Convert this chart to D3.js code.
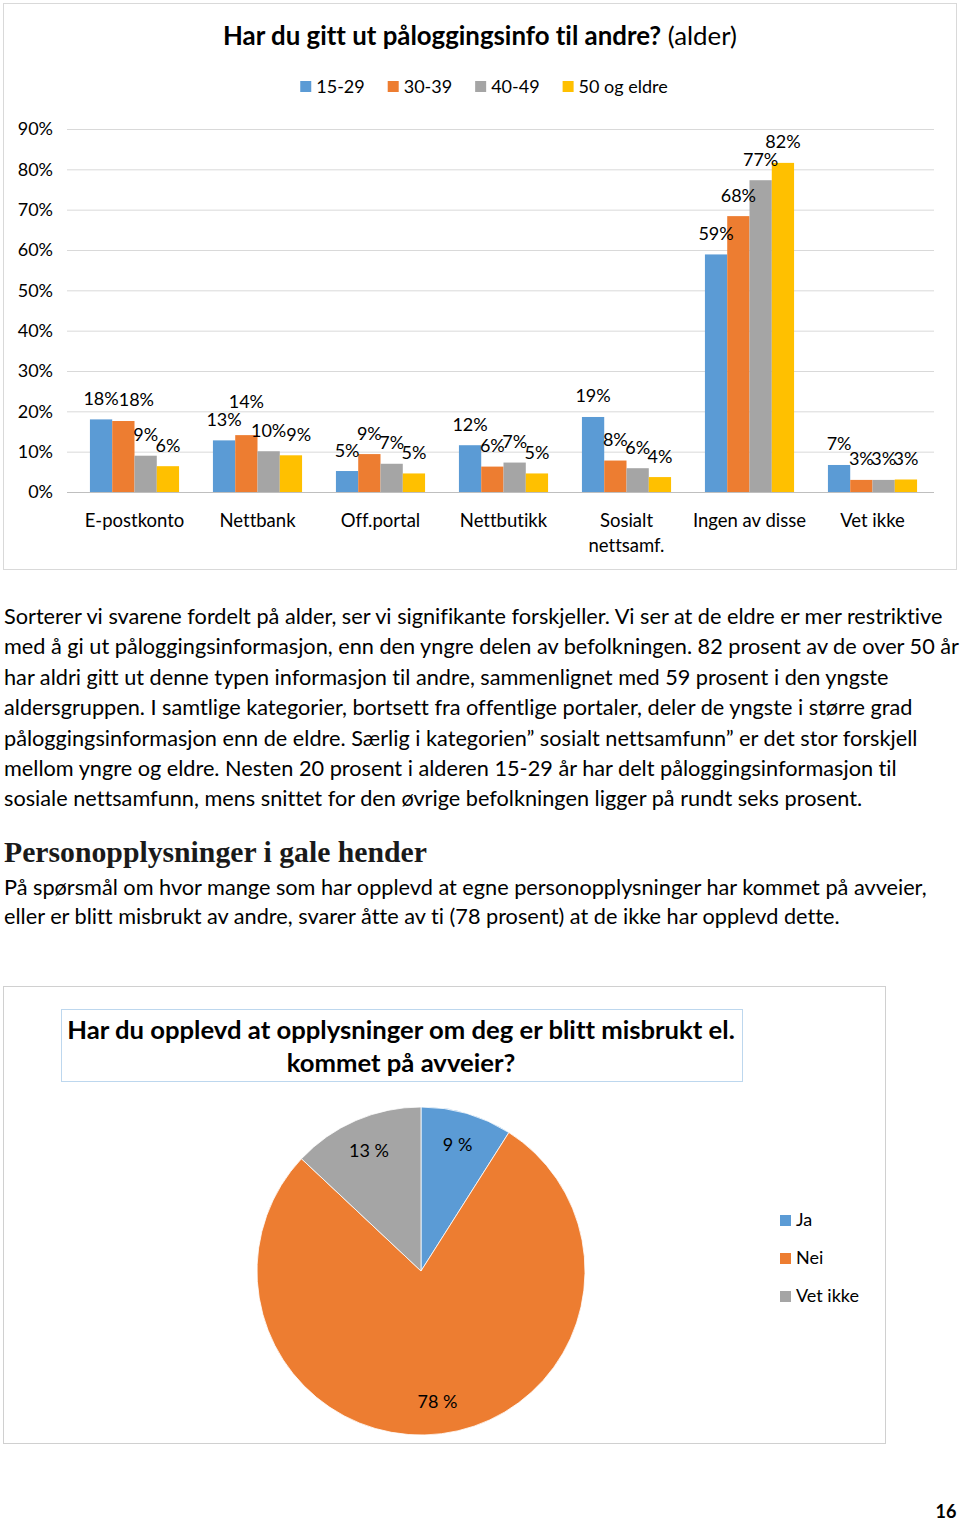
<!DOCTYPE html>
<html><head><meta charset="utf-8">
<script src="https://cdn.jsdelivr.net/npm/d3@7"></script>
<style>
body{margin:0;background:#fff;}
svg{display:block;font-family:Lato,'Open Sans',sans-serif;}
svg text{font-variant-ligatures:none;font-feature-settings:"liga" 0,"clig" 0;}
</style>
</head><body>
<svg id="page" width="960" height="1521"></svg>
<script>
// ---------- data ----------
const categories = ["E-postkonto","Nettbank","Off.portal","Nettbutikk","Sosialt\nnettsamf.","Ingen av disse","Vet ikke"];
const seriesNames = ["15-29","30-39","40-49","50 og eldre"];
const age1529 = [18.0,12.8,5.2,11.6,18.6,58.9,6.7];
const age3039 = [17.6,14.1,9.4,6.3,7.8,68.4,3.0];
const age4049 = [9.0,10.1,7.0,7.3,5.9,77.3,3.0];
const age50 = [6.4,9.1,4.6,4.6,3.7,81.6,3.1];
const yTicks = [0,10,20,30,40,50,60,70,80,90];
const barTitleBold = "Har du gitt ut påloggingsinfo til andre?";
const barTitleNormal = " (alder)";

const pieCategories = ["Ja","Nei","Vet ikke"];
const pieValues = [9,78,13];
const pieTitleLines = ["Har du opplevd at opplysninger om deg er blitt misbrukt el.","kommet på avveier?"];

const paragraph1 = [
"Sorterer vi svarene fordelt på alder, ser vi signifikante forskjeller. Vi ser at de eldre er mer restriktive",
"med å gi ut påloggingsinformasjon, enn den yngre delen av befolkningen. 82 prosent av de over 50 år",
"har aldri gitt ut denne typen informasjon til andre, sammenlignet med 59 prosent i den yngste",
"aldersgruppen. I samtlige kategorier, bortsett fra offentlige portaler, deler de yngste i større grad",
"påloggingsinformasjon enn de eldre. Særlig i kategorien” sosialt nettsamfunn” er det stor forskjell",
"mellom yngre og eldre. Nesten 20 prosent i alderen 15-29 år har delt påloggingsinformasjon til",
"sosiale nettsamfunn, mens snittet for den øvrige befolkningen ligger på rundt seks prosent."
];
const heading = "Personopplysninger i gale hender";
const paragraph2 = [
"På spørsmål om hvor mange som har opplevd at egne personopplysninger har kommet på avveier,",
"eller er blitt misbrukt av andre, svarer åtte av ti (78 prosent) at de ikke har opplevd dette."
];
const pageNumber = "16";

// ---------- style ----------
const colors = ["#5b9bd5","#ed7d31","#a5a5a5","#ffc000"];
const svg = d3.select("#page");
svg.append("rect").attr("width",960).attr("height",1521).attr("fill","#fff");

function fit(sel, target){
  const fs = parseFloat(sel.attr("font-size"));
  const w = sel.node().getComputedTextLength();
  sel.attr("font-size", (fs*target/w).toFixed(2));
}

// ---------- bar chart ----------
svg.append("rect").attr("x",3.5).attr("y",3.5).attr("width",953).attr("height",566)
  .attr("fill","none").attr("stroke","#d9d9d9");

const t1 = svg.append("text").attr("x",480).attr("y",45).attr("text-anchor","middle")
  .attr("font-size",24).attr("fill","#000");
t1.append("tspan").attr("font-weight","bold").text(barTitleBold);
t1.append("tspan").text(barTitleNormal);
fit(t1, 514);

const series = [age1529,age3039,age4049,age50];
const x0 = d3.scaleBand().domain(categories).range([73,934]);
const x1 = d3.scaleBand().domain(seriesNames).range([0,x0.bandwidth()]).paddingInner(0).paddingOuter(0.76);
const y = d3.scaleLinear().domain([0,90]).range([492,129]);

// legend
const lg = svg.append("g");
let lx = 0;
seriesNames.forEach((n,i)=>{
  const g = lg.append("g").attr("transform",`translate(${lx},0)`);
  g.append("rect").attr("x",0).attr("y",-6).attr("width",11).attr("height",11).attr("fill",colors[i]);
  const tx = g.append("text").attr("x",16).attr("y",6).attr("font-size",18).attr("fill","#000").text(n);
  lx += 16 + tx.node().getComputedTextLength() + 23;
});
lx -= 23;
lg.attr("transform",`translate(${484 - lx/2},87)`);

// grid
svg.append("g").selectAll("line").data(yTicks).join("line")
  .attr("x1",67).attr("x2",934).attr("y1",d=>y(d)+0.5).attr("y2",d=>y(d)+0.5)
  .attr("stroke",d=>d===0?"#bfbfbf":"#d9d9d9").attr("stroke-width",1);
svg.append("g").selectAll("text").data(yTicks).join("text")
  .attr("x",53).attr("y",d=>y(d)).attr("dy","0.36em").attr("text-anchor","end")
  .attr("font-size",18).attr("fill","#000").text(d=>d+"%");

// bars
const groups = svg.append("g").selectAll("g").data(categories).join("g")
  .attr("transform",d=>`translate(${x0(d)},0)`);
groups.each(function(cat,ci){
  const g = d3.select(this);
  const vals = series.map(s=>s[ci]);
  g.selectAll("rect").data(vals).join("rect")
    .attr("x",(d,i)=>x1(seriesNames[i])).attr("width",x1.bandwidth())
    .attr("y",d=>y(d)).attr("height",d=>y(0)-y(d)).attr("fill",(d,i)=>colors[i]);
  // labels with simple overlap avoidance
  const boxes = [];
  vals.forEach((v,i)=>{
    const cx = x1(seriesNames[i]) + x1.bandwidth()/2;
    let cy = y(v) - 21;
    const t = g.append("text").attr("text-anchor","middle").attr("font-size",18)
      .attr("fill","#000").attr("dy","0.36em").text(Math.round(v)+"%");
    const w = t.node().getComputedTextLength();
    let left = cx - w/2;
    boxes.forEach(b=>{
      const top = cy-9, bot = cy+9;
      const vo = Math.min(bot,b.bot)-Math.max(top,b.top);
      const ho = Math.min(left+w,b.right)-Math.max(left,b.left);
      if(vo>3 && ho>3){
        if(ho>=8 && cy < (b.top+b.bot)/2){ cy = b.top - 9; }
        else { left = b.right; }
      }
    });
    t.attr("x",left + w/2).attr("y",cy);
    boxes.push({left:left,right:left+w,top:cy-9,bot:cy+9});
  });
  // category label
  const lines = cat.split("\n");
  const ct = g.append("text").attr("text-anchor","middle").attr("font-size",18.5).attr("fill","#000");
  lines.forEach((l,k)=>ct.append("tspan").attr("x",x0.bandwidth()/2).attr("y",527+k*25).text(l));
});

// ---------- text ----------
const p1lines = svg.append("g").selectAll("text").data(paragraph1).join("text")
  .attr("x",4).attr("y",(d,i)=>624+i*30.4).attr("font-size",20).attr("fill","#000").text(d=>d);
{
  const first = p1lines.nodes()[0];
  const k = 939/first.getComputedTextLength();
  p1lines.attr("font-size",(20*k).toFixed(2));
}
const hd = svg.append("text").attr("x",4).attr("y",862).attr("font-size",26)
  .attr("font-family","'Liberation Serif','DejaVu Serif',serif").attr("font-weight","bold")
  .attr("fill","#1a1a1a").text(heading);
fit(hd, 423);
const p2lines = svg.append("g").selectAll("text").data(paragraph2).join("text")
  .attr("x",4).attr("y",(d,i)=>895+i*28.5).attr("font-size",20).attr("fill","#000").text(d=>d);
{
  const first = p2lines.nodes()[0];
  const k = 923/first.getComputedTextLength();
  p2lines.attr("font-size",(20*k).toFixed(2));
}

// ---------- pie chart ----------
svg.append("rect").attr("x",3.5).attr("y",986.5).attr("width",882).attr("height",457)
  .attr("fill","none").attr("stroke","#d0d0d0");
svg.append("rect").attr("x",61.5).attr("y",1009.5).attr("width",681).attr("height",72)
  .attr("fill","none").attr("stroke","#bdd7ee");
const ptl = svg.append("g").selectAll("text").data(pieTitleLines).join("text")
  .attr("x",401).attr("y",(d,i)=>1039+i*33).attr("text-anchor","middle")
  .attr("font-size",24).attr("font-weight","bold").attr("fill","#000").text(d=>d);
{
  const first = ptl.nodes()[0];
  const k = 668/first.getComputedTextLength();
  ptl.attr("font-size",(24*k).toFixed(2));
}
const R = 164;
const pie = d3.pie().sort(null).value(d=>d)(pieValues);
const arc = d3.arc().innerRadius(0).outerRadius(R);
const labelArc = d3.arc().innerRadius(R*0.8).outerRadius(R*0.8);
const pg = svg.append("g").attr("transform","translate(421,1271)");
pg.selectAll("path").data(pie).join("path").attr("d",arc)
  .attr("fill",(d,i)=>colors[i]).attr("stroke","#fff").attr("stroke-width",0.8);
pg.selectAll("text").data(pie).join("text")
  .attr("transform",d=>`translate(${labelArc.centroid(d)})`)
  .attr("text-anchor","middle").attr("dy","0.36em").attr("font-size",18).attr("fill","#000")
  .text(d=>d.data+" %");
const pl = svg.append("g").selectAll("g").data(pieCategories).join("g")
  .attr("transform",(d,i)=>`translate(780,${1220+i*38})`);
pl.append("rect").attr("x",0).attr("y",-5).attr("width",11).attr("height",11).attr("fill",(d,i)=>colors[i]);
pl.append("text").attr("x",16).attr("y",0).attr("dy","0.36em").attr("font-size",18).attr("fill","#000").text(d=>d);

// page number
svg.append("text").attr("x",946).attr("y",1518).attr("text-anchor","middle")
  .attr("font-size",18).attr("font-weight","bold").attr("fill","#000").text(pageNumber);
</script>
</body></html>
